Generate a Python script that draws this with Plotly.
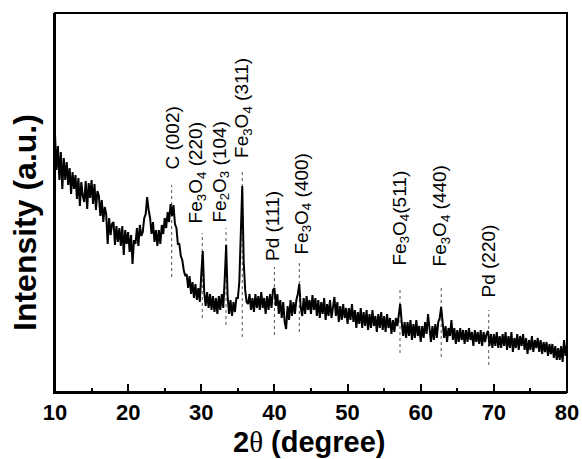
import plotly.graph_objects as go

# 2-theta grid: 10.0 .. 80.0 in 0.2 degree steps
two_theta = [round(10 + 0.2 * i, 1) for i in range(351)]

intensity = [
    258, 222, 246, 212, 240,   # 10
    203, 234, 212, 230, 207,   # 11
    224, 198, 220, 203, 217,   # 12
    193, 214, 186, 210, 196,   # 13
    190, 211, 183, 209, 194,   # 14
    212, 188, 208, 182, 201,   # 15
    196, 176, 192, 170, 185,   # 16
    178, 148, 174, 157, 168,   # 17
    170, 147, 166, 150, 164,   # 18
    146, 166, 137, 162, 148,   # 19
    160, 140, 157, 128, 152,   # 20
    148, 164, 146, 167, 156,   # 21
    160, 174, 178, 195, 182,   # 22
    174, 158, 170, 150, 162,   # 23
    146, 162, 148, 167, 158,   # 24
    174, 164, 180, 170, 188,   # 25
    176, 187, 168, 164, 148,   # 26
    148, 136, 132, 122, 116,   # 27
    118, 104, 116, 98, 110,    # 28
    94, 108, 92, 104, 90,      # 29
    118, 141, 100, 86, 100,    # 30
    84, 98, 82, 96, 80,        # 31
    94, 78, 96, 82, 98,        # 32
    84, 112, 147, 96, 78,      # 33
    92, 76, 90, 80, 94,        # 34
    94, 110, 150, 206, 130,    # 35
    102, 90, 88, 98, 82,       # 36
    94, 80, 98, 84, 96,        # 37
    82, 100, 84, 94, 78,       # 38
    96, 82, 98, 84, 102,       # 39
    104, 86, 98, 78, 92,       # 40
    74, 90, 70, 63, 86,        # 41
    72, 92, 76, 90, 78,        # 42
    92, 98, 108, 84, 76,       # 43
    94, 78, 96, 82, 92,        # 44
    78, 97, 82, 94, 76,        # 45
    92, 74, 90, 78, 94,        # 46
    72, 88, 76, 92, 74,        # 47
    88, 95, 76, 90, 70,        # 48
    86, 72, 88, 74, 84,        # 49
    68, 84, 72, 88, 70,        # 50
    82, 64, 80, 68, 84,        # 51
    64, 80, 66, 82, 62,        # 52
    78, 64, 82, 66, 76,        # 53
    60, 78, 64, 80, 62,        # 54
    76, 60, 78, 64, 74,        # 55
    58, 72, 60, 74, 66,        # 56
    78, 88, 70, 56, 70,        # 57
    54, 70, 56, 72, 52,        # 58
    68, 54, 72, 56, 66,        # 59
    50, 66, 54, 70, 58,        # 60
    78, 60, 50, 66, 52,        # 61
    68, 54, 70, 74, 85,        # 62
    68, 54, 66, 50, 64,        # 63
    56, 72, 52, 64, 48,        # 64
    62, 50, 64, 52, 62,        # 65
    48, 62, 50, 64, 52,        # 66
    60, 46, 62, 50, 60,        # 67
    48, 62, 46, 60, 50,        # 68
    58, 61, 46, 58, 44,        # 69
    58, 46, 60, 44, 56,        # 70
    44, 58, 46, 60, 42,        # 71
    56, 44, 60, 40, 54,        # 72
    44, 58, 42, 56, 46,        # 73
    58, 42, 54, 38, 52,        # 74
    42, 56, 40, 52, 44,        # 75
    54, 40, 52, 38, 50,        # 76
    40, 50, 36, 48, 38,        # 77
    48, 34, 46, 32, 44,        # 78
    32, 46, 30, 52, 36,        # 79
    48,                        # 80
]

# Reflection markers: position, dashed-line span, label
peak_pos = [25.95, 30.14, 33.38, 35.6, 40.0, 43.4, 57.17, 62.8, 69.3]
line_top = [207, 159, 164, 222, 125, 130, 105, 104, 82]
line_bottom = [115, 74, 67, 55, 57, 60, 39, 35, 27]
label_x = [26.0, 29.4, 32.56, 35.7, 39.67, 43.77, 57.17, 62.77, 69.2]
label_y = [220, 167, 167, 232, 129, 135, 124, 124, 92]
labels = [
    "C (002)",
    "Fe<sub>3</sub>O<sub>4</sub> (220)",
    "Fe<sub>2</sub>O<sub>3</sub> (104)",
    "Fe<sub>3</sub>O<sub>4</sub> (311)",
    "Pd (111)",
    "Fe<sub>3</sub>O<sub>4</sub> (400)",
    "Fe<sub>3</sub>O<sub>4</sub>(511)",
    "Fe<sub>3</sub>O<sub>4</sub> (440)",
    "Pd (220)",
]
x_ticks = [10, 20, 30, 40, 50, 60, 70, 80]

FONT = "Liberation Sans, Arial, sans-serif"

fig = go.Figure()

for p, t, b in zip(peak_pos, line_top, line_bottom):
    fig.add_trace(go.Scatter(
        x=[p, p], y=[b, t], mode="lines",
        line=dict(color="#555555", width=1, dash="3px,3px"),
        showlegend=False, hoverinfo="skip"))

fig.add_trace(go.Scatter(
    x=two_theta, y=intensity, mode="lines",
    line=dict(color="black", width=2.0),
    showlegend=False))

for lx, ly, txt in zip(label_x, label_y, labels):
    fig.add_annotation(
        x=lx, y=ly, text=txt, textangle=-90, showarrow=False,
        xanchor="center", yanchor="bottom",
        font=dict(family=FONT, size=19, color="black"))

fig.add_annotation(
    xref="paper", yref="paper", x=-0.0586, y=0.4485,
    text="Intensity (a.u.)", textangle=-90, showarrow=False,
    xanchor="center", yanchor="middle",
    font=dict(family=FONT, size=32, color="black", weight="bold"))

fig.add_annotation(
    xref="paper", yref="paper", x=0.498, y=-0.132,
    text='2<span style="font-family:Liberation Serif;font-weight:normal">θ</span> (degree)',
    showarrow=False, xanchor="center", yanchor="middle",
    font=dict(family=FONT, size=29, color="black", weight="bold"))

# plot frame
fig.add_shape(type="rect", xref="paper", yref="paper", x0=0, y0=0, x1=1, y1=1,
              line=dict(color="black", width=2), layer="above")

fig.update_layout(
    width=582, height=459,
    margin=dict(l=55, r=15, t=13, b=67, autoexpand=False),
    paper_bgcolor="white", plot_bgcolor="white",
    font=dict(family=FONT, color="black"),
    xaxis=dict(
        range=[10, 80], tickmode="array", tickvals=x_ticks,
        ticktext=[str(v) for v in x_ticks], automargin=False,
        ticks="inside", ticklen=8, tickwidth=2, tickcolor="black",
        minor=dict(dtick=5, tick0=5, ticks="inside", ticklen=4, tickwidth=2, tickcolor="black"),
        showline=True, linewidth=2, linecolor="black", mirror=False,
        showgrid=False, zeroline=False,
        tickfont=dict(family=FONT, size=22, color="black", weight="bold")),
    yaxis=dict(
        range=[0, 379], showticklabels=False, ticks="", automargin=False,
        showline=True, linewidth=2, linecolor="black", mirror=False,
        showgrid=False, zeroline=False),
)

fig.write_html("out.html")
